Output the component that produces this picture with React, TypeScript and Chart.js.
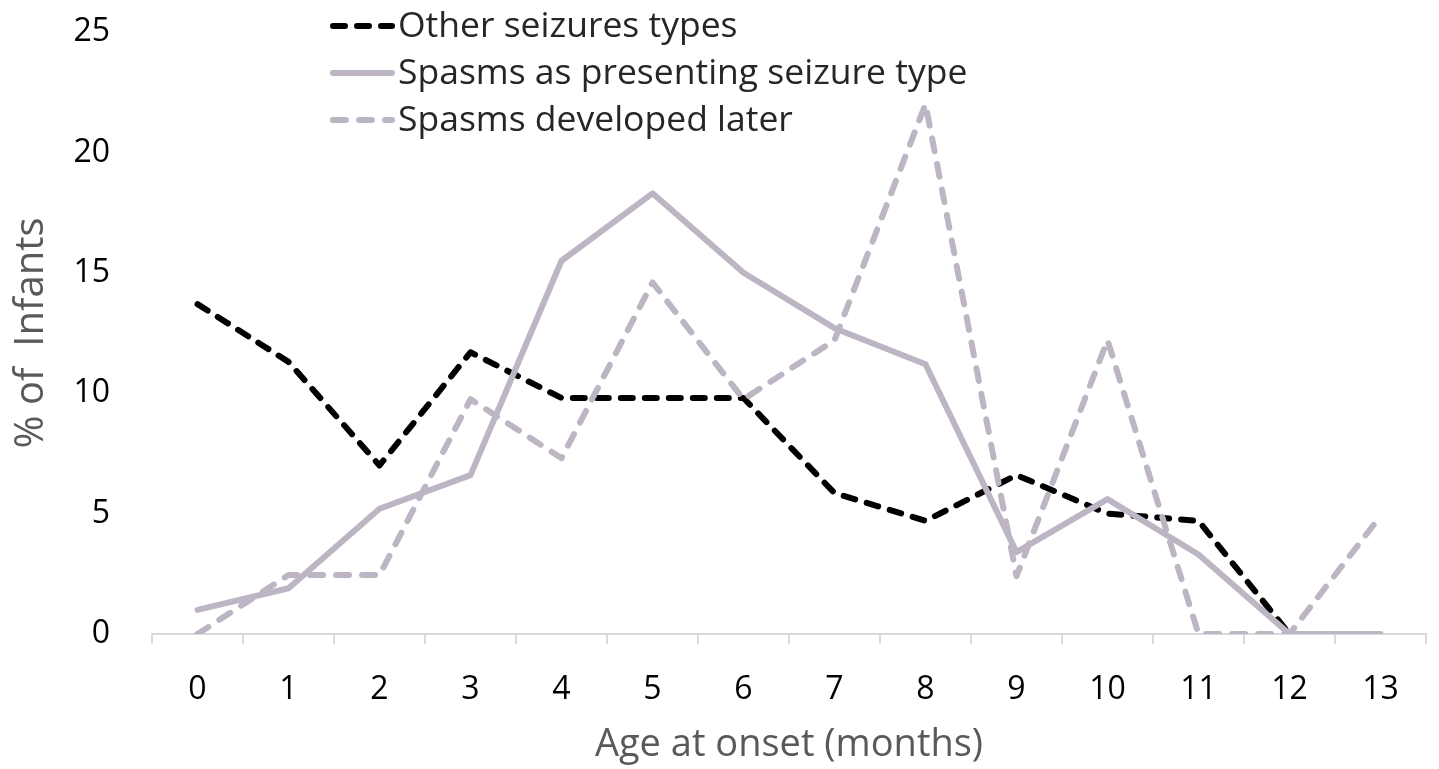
import React, { useEffect, useRef } from "react";
import { Chart, registerables } from "chart.js";

Chart.register(...registerables);

const months = ["0", "1", "2", "3", "4", "5", "6", "7", "8", "9", "10", "11", "12", "13"];
const otherSeizures: (number | null)[] = [13.7, 11.3, 7.0, 11.7, 9.8, 9.8, 9.8, 5.85, 4.7, 6.6, 5.0, 4.7, 0, null];
const spasmsPresenting = [1.0, 1.9, 5.2, 6.6, 15.5, 18.3, 15.0, 12.7, 11.2, 3.4, 5.6, 3.3, 0, 0];
const spasmsLater = [0, 2.45, 2.45, 9.75, 7.3, 14.6, 9.75, 12.2, 22.0, 2.4, 12.2, 0, 0, 4.9];
const seriesNames = ["Other seizures types", "Spasms as presenting seizure type", "Spasms developed later"];
const yTicks = [0, 5, 10, 15, 20, 25];

const FONT = "'Open Sans', Lato, sans-serif";
const GRAY = "#BDB5C3";

const legendPlugin = {
  id: "verticalLegend",
  afterDraw(chart: any) {
    const ctx = chart.ctx as CanvasRenderingContext2D;
    const x0 = 333;
    const x1 = 392;
    const top = 26;
    const gap = 47;
    ctx.save();
    chart.data.datasets.forEach((ds: any, i: number) => {
      const y = top + i * gap;
      ctx.strokeStyle = ds.borderColor;
      ctx.lineWidth = ds.borderWidth;
      ctx.lineCap = "round";
      ctx.setLineDash(ds.borderDash || []);
      ctx.beginPath();
      ctx.moveTo(x0, y);
      ctx.lineTo(x1, y);
      ctx.stroke();
      ctx.setLineDash([]);
      ctx.fillStyle = "#262626";
      ctx.font = `35.5px ${FONT}`;
      ctx.textBaseline = "middle";
      ctx.textAlign = "left";
      ctx.fillText(ds.label, 398, y + 1);
    });
    ctx.restore();
  },
};

export default function App() {
  const ref = useRef<HTMLCanvasElement | null>(null);
  useEffect(() => {
    if (!ref.current) return;
    const chart = new Chart(ref.current, {
      type: "line",
      data: {
        labels: months,
        datasets: [
          {
            label: seriesNames[0],
            data: otherSeizures,
            borderColor: "#000000",
            backgroundColor: "#000000",
            borderWidth: 6,
            borderDash: [12, 12],
            borderCapStyle: "round",
            borderJoinStyle: "round",
            pointRadius: 0,
            tension: 0,
            spanGaps: false,
            order: 3,
          },
          {
            label: seriesNames[1],
            data: spasmsPresenting,
            borderColor: GRAY,
            backgroundColor: GRAY,
            borderWidth: 6,
            borderCapStyle: "round",
            borderJoinStyle: "round",
            pointRadius: 0,
            tension: 0,
            order: 2,
          },
          {
            label: seriesNames[2],
            data: spasmsLater,
            borderColor: GRAY,
            backgroundColor: GRAY,
            borderWidth: 6,
            borderDash: [13, 13],
            borderCapStyle: "round",
            borderJoinStyle: "round",
            pointRadius: 0,
            tension: 0,
            order: 1,
          },
        ],
      },
      options: {
        animation: false,
        responsive: true,
        maintainAspectRatio: false,
        layout: { padding: { left: 4, top: 32, right: 13, bottom: 0 } },
        plugins: {
          legend: { display: false },
          tooltip: { enabled: false },
        },
        scales: {
          x: {
            type: "category",
            offset: true,
            border: { display: true, color: "#D9D9D9", width: 2 },
            grid: {
              display: true,
              drawOnChartArea: false,
              offset: true,
              tickLength: 10,
              color: "#D9D9D9",
              lineWidth: 2,
            },
            ticks: {
              color: "#000000",
              font: { family: FONT, size: 32 },
              padding: 27,
              maxRotation: 0,
              autoSkip: false,
            },
            title: {
              display: true,
              text: "Age at onset (months)",
              color: "#595959",
              font: { family: FONT, size: 38 },
              padding: { top: 4, bottom: 1 },
            },
            afterFit(scale: any) {
              scale.height = 135;
              scale.paddingLeft = 0;
              scale.paddingRight = 0;
            },
          },
          y: {
            min: 0,
            max: 25,
            border: { display: false },
            grid: { display: false, drawTicks: false },
            afterBuildTicks(scale: any) {
              scale.ticks = yTicks.map((v) => ({ value: v }));
            },
            ticks: {
              color: "#000000",
              font: { family: FONT, size: 32 },
              padding: 42,
            },
            title: {
              display: true,
              text: "% of  Infants",
              color: "#595959",
              font: { family: FONT, size: 40 },
            },
            afterFit(scale: any) {
              scale.width = 148;
              scale.paddingTop = 0;
              scale.paddingBottom = 0;
            },
          },
        },
      },
      plugins: [legendPlugin],
    });
    return () => chart.destroy();
  }, []);

  return (
    <div style={{ position: "fixed", left: 0, top: 0, width: 1439, height: 769, background: "#ffffff" }}>
      <canvas ref={ref} />
    </div>
  );
}
